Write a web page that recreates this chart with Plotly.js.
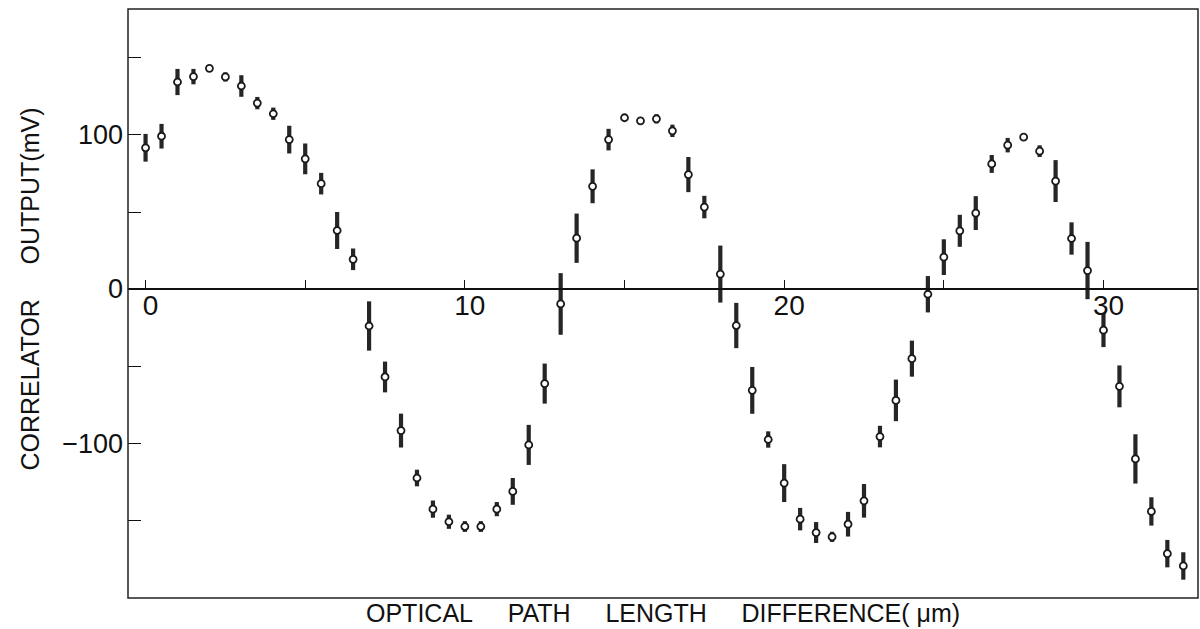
<!DOCTYPE html>
<html>
<head>
<meta charset="utf-8">
<script src="https://cdn.plot.ly/plotly-3.0.1.min.js"></script>
<style>html,body{margin:0;padding:0;background:#fff;}#chart{width:1200px;height:629px;}</style>
</head>
<body>
<div id="chart"></div>
<script>
// Optical path length difference (µm)
const opd = [0,0.5,1,1.5,2,2.5,3,3.5,4,4.5,5,5.5,6,6.5,7,7.5,8,8.5,9,9.5,10,10.5,11,11.5,12,12.5,13,13.5,14,14.5,15,15.5,16,16.5,17,17.5,18,18.5,19,19.5,20,20.5,21,21.5,22,22.5,23,23.5,24,24.5,25,25.5,26,26.5,27,27.5,28,28.5,29,29.5,30,30.5,31,31.5,32,32.5];
// Correlator output (mV)
const output = [91.7,99.2,134.4,137.9,143.3,137.7,131.8,120.7,113.8,97,84.5,68.4,38,19.3,-24,-57.1,-91.9,-122.7,-142.9,-151.1,-154.2,-154.2,-142.9,-131.4,-101.2,-61.4,-9.7,33,66.7,97,111.2,109.2,110.5,102.7,74.3,53.2,9.7,-23.7,-65.8,-97.7,-126,-149.4,-158.1,-160.9,-152.7,-137.5,-95.8,-72.3,-45.2,-3.4,20.7,37.8,49.3,81.2,93.4,98.6,89.5,70.1,32.8,12,-26.7,-63.2,-110.3,-144.4,-171.8,-179.8];
// Error (mV)
const errorMv = [9,8,8.5,5,2,3,7,4,4,9,10,7,12,7,16,10,11,5.4,5.6,4.6,3.5,3.5,4.6,8.7,13,13,20,16,11,7,2,1.5,3,4,11.4,7.3,18.5,14.7,15.2,5.3,12.3,7.3,6.8,3.3,8,10.9,7,13.5,11.7,11.8,11.6,10.4,11,5.8,4.7,2,3.8,13.6,10.5,18.6,11,13.6,16,9.2,8.9,8.9];
const xTickVals = [0,5,10,15,20,25,30];
const xTickText = ['0','','10','','20','','30'];
const yTickVals = [-150,-100,-50,0,50,100,150];
const yTickText = ['','\u2212100','','0','','100',''];
const xRange = [-0.55, 32.96];
const yRange = [-200.6, 181.8];

const FONT = 'Liberation Sans, Arial, sans-serif';
const sp = '\u00a0\u00a0\u00a0\u00a0\u00a0';

const trace = {
  x: opd, y: output, type: 'scatter', mode: 'markers',
  marker: {symbol: 'circle', size: 7, color: '#ffffff', line: {color: '#1a1a1a', width: 1.8}},
  error_y: {type: 'data', array: errorMv, visible: true, color: '#262626', thickness: 4.2, width: 0},
  hoverinfo: 'x+y'
};

const layout = {
  width: 1200, height: 629,
  margin: {l: 128, r: 2, t: 9, b: 31, pad: 0},
  paper_bgcolor: '#ffffff', plot_bgcolor: '#ffffff',
  showlegend: false,
  font: {family: FONT, color: '#111'},
  xaxis: {
    range: xRange, anchor: 'free', position: -yRange[0] / (yRange[1] - yRange[0]),
    showgrid: false, zeroline: false, showline: true, linecolor: '#111', linewidth: 2,
    ticks: 'inside', ticklen: 8, tickwidth: 1.3, tickcolor: '#111',
    tickmode: 'array', tickvals: xTickVals, ticktext: xTickText,
    tickfont: {family: FONT, size: 28, color: '#111'}, ticklabelshift: 5, ticklabelstandoff: -9,
    automargin: false
  },
  yaxis: {
    range: yRange, showgrid: false, zeroline: false, showline: false,
    ticks: 'inside', ticklen: 13, tickwidth: 1.3, tickcolor: '#111',
    tickmode: 'array', tickvals: yTickVals, ticktext: yTickText,
    tickfont: {family: FONT, size: 27, color: '#111'}, ticklabelstandoff: 4,
    automargin: false
  },
  shapes: [{type: 'rect', xref: 'paper', yref: 'paper', x0: 0, x1: 1, y0: 0, y1: 1,
            line: {color: '#222', width: 1.5}, layer: 'above'}],
  annotations: [
    {text: 'OPTICAL' + sp + 'PATH' + sp + 'LENGTH' + sp + 'DIFFERENCE(\u00a0\u03bcm)',
     xref: 'paper', yref: 'paper', x: 0.5, y: 0, yshift: -15, xanchor: 'center', yanchor: 'middle',
     showarrow: false, font: {family: FONT, size: 25, color: '#111'}},
    {text: 'CORRELATOR' + sp + 'OUTPUT(mV)',
     xref: 'paper', yref: 'paper', x: 0, xshift: -99, y: 0.5, yshift: 14, xanchor: 'center', yanchor: 'middle',
     textangle: -90, showarrow: false, font: {family: FONT, size: 25, color: '#111'}}
  ]
};

Plotly.newPlot('chart', [trace], layout, {displayModeBar: false, responsive: false});
</script>
</body>
</html>
